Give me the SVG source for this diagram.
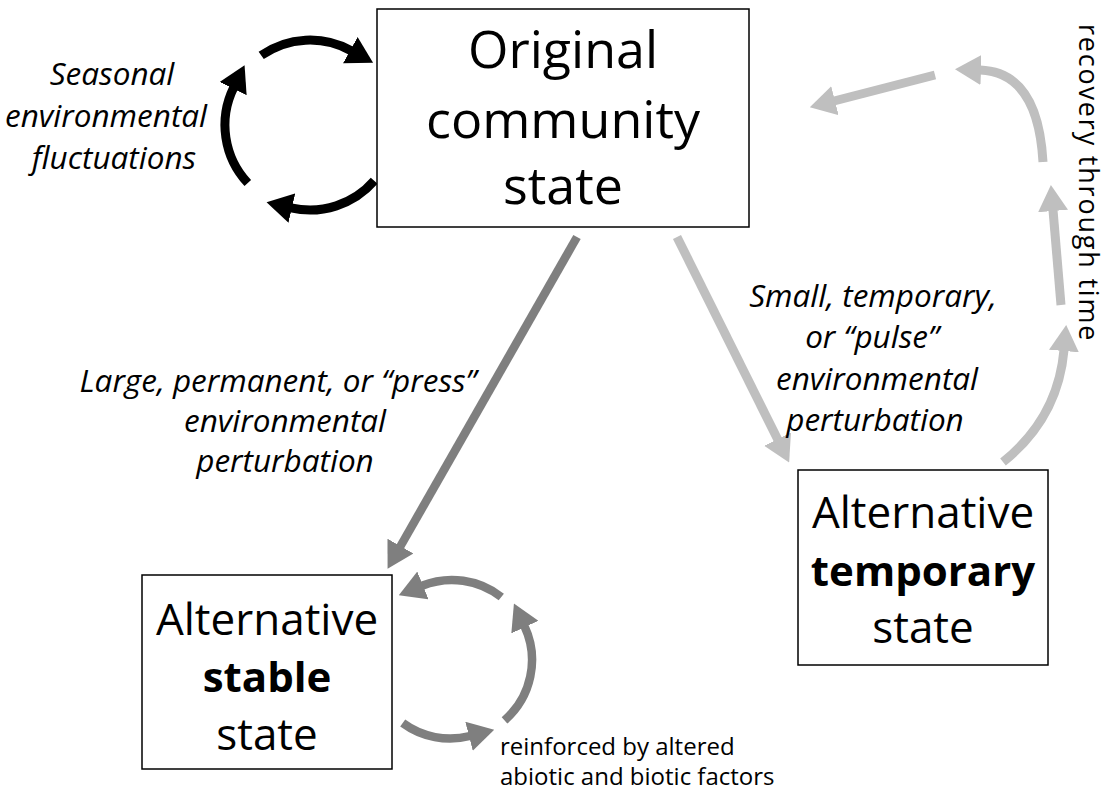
<svg xmlns="http://www.w3.org/2000/svg" width="1110" height="793" viewBox="0 0 1110 793">
<style>
.box{fill:#fff;stroke:#000;stroke-width:1.5}
.big{font-family:"Open Sans","Liberation Sans",sans-serif;font-size:52px;fill:#000;text-anchor:middle}
.alt{font-family:"Open Sans","Liberation Sans",sans-serif;font-size:44px;fill:#000;text-anchor:middle}
.b{font-weight:bold;font-size:42px}
.lab{font-family:"Open Sans","Liberation Sans",sans-serif;font-size:31.5px;font-style:italic;fill:#000;text-anchor:middle}
.note{font-family:"Open Sans","Liberation Sans",sans-serif;font-size:24px;fill:#000}
.rot{font-family:"Open Sans","Liberation Sans",sans-serif;font-size:27px;letter-spacing:1.8px;fill:#000}
.k{fill:none;stroke:#000;stroke-width:9}
.d{fill:none;stroke:#7f7f7f;stroke-width:8.5}
.l{fill:none;stroke:#bfbfbf;stroke-width:9}
</style>
<defs>
<marker id="hk" markerUnits="userSpaceOnUse" viewBox="0 0 26 30" markerWidth="26" markerHeight="30" refX="1" refY="15" orient="auto"><path d="M0,0 L26,15 L0,30 Z" fill="#000"/></marker>
<marker id="hd" markerUnits="userSpaceOnUse" viewBox="0 0 26 30" markerWidth="26" markerHeight="30" refX="1" refY="15" orient="auto"><path d="M0,0 L26,15 L0,30 Z" fill="#7f7f7f"/></marker>
<marker id="hl" markerUnits="userSpaceOnUse" viewBox="0 0 26 30" markerWidth="26" markerHeight="30" refX="1" refY="15" orient="auto"><path d="M0,0 L26,15 L0,30 Z" fill="#bfbfbf"/></marker>
</defs>

<g id="connectors">
<!-- seasonal cycle (black) -->
<path class="k" d="M261.2,55.4 A85,85 0 0,1 351.2,50.7" marker-end="url(#hk)"/>
<path class="k" d="M247.8,183 A85,85 0 0,1 233.6,87.7" marker-end="url(#hk)"/>
<path class="k" d="M374.2,180.8 A85,85 0 0,1 290.9,207.8" marker-end="url(#hk)"/>
<!-- press -->
<path class="d" d="M577,237 L400,547" marker-end="url(#hd)"/>
<!-- pulse -->
<path class="l" d="M677,237 L778,440" marker-end="url(#hl)"/>
<!-- stable cycle -->
<path class="d" d="M501.3,597 A80,80 0 0,0 422,585.8" marker-end="url(#hd)"/>
<path class="d" d="M504.5,720.4 A80,80 0 0,0 524.5,626.2" marker-end="url(#hd)"/>
<path class="d" d="M402.7,723 A80,80 0 0,0 470,736" marker-end="url(#hd)"/>
<!-- recovery -->
<path class="l" d="M1003,462 Q1058,418 1064,350" marker-end="url(#hl)"/>
<path class="l" d="M1061,305 L1053,210" marker-end="url(#hl)"/>
<path class="l" d="M1043,162 Q1038,72 980,70" marker-end="url(#hl)"/>
<path class="l" d="M935,75 L834,101" marker-end="url(#hl)"/>
</g>

<g id="original">
<rect class="box" x="377" y="9" width="372" height="218"/>
<text class="big" x="563" y="68">Original</text>
<text class="big" x="563" y="138">community</text>
<text class="big" x="563" y="204">state</text>
</g>

<g id="stable">
<rect class="box" x="142" y="575" width="250" height="194"/>
<text class="alt" x="267" y="635">Alternative</text>
<text class="alt b" x="267" y="692">stable</text>
<text class="alt" x="267" y="750">state</text>
</g>

<g id="temporary">
<rect class="box" x="798" y="470" width="250" height="195"/>
<text class="alt" x="923" y="528">Alternative</text>
<text class="alt b" x="923" y="586">temporary</text>
<text class="alt" x="923" y="643">state</text>
</g>

<g id="labels">
<text class="lab" x="112" y="85">Seasonal</text>
<text class="lab" x="106" y="127">environmental</text>
<text class="lab" x="114" y="169">fluctuations</text>
<text class="lab" x="278" y="392">Large, permanent, or “press”</text>
<text class="lab" x="285" y="432">environmental</text>
<text class="lab" x="285" y="472">perturbation</text>
<text class="lab" x="873" y="307">Small, temporary,</text>
<text class="lab" x="872" y="348">or “pulse”</text>
<text class="lab" x="877" y="390">environmental</text>
<text class="lab" x="875" y="431">perturbation</text>
<text class="rot" transform="translate(1079,24) rotate(90)">recovery through time</text>
<text class="note" x="500" y="755">reinforced by altered</text>
<text class="note" x="500" y="785">abiotic and biotic factors</text>
</g>
</svg>
